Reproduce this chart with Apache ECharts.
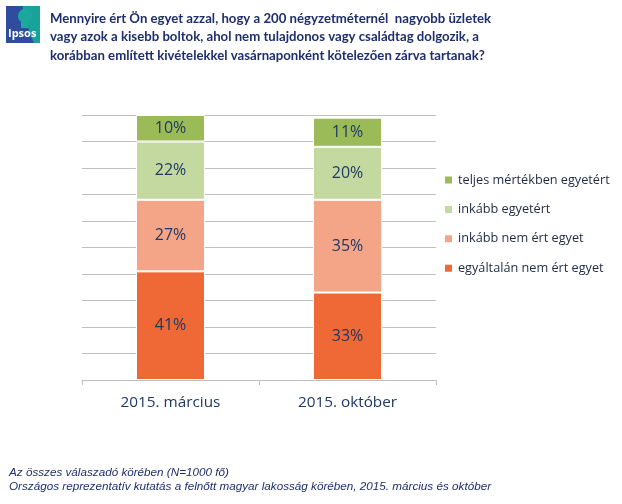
<!DOCTYPE html>
<html>
<head>
<meta charset="utf-8">
<script src="https://cdn.jsdelivr.net/npm/echarts@6/dist/echarts.min.js"></script>
<style>
html,body{margin:0;padding:0;background:#fff;}
#c{width:622px;height:504px;}
</style>
</head>
<body>
<div id="c"></div>
<script>
var categories = ['2015. március', '2015. október'];
var seriesNames = ['egyáltalán nem ért egyet', 'inkább nem ért egyet', 'inkább egyetért', 'teljes mértékben egyetért'];
var valEgyaltalan = [41, 33];
var valInkabbNem = [27, 35];
var valInkabbIgen = [22, 20];
var valTeljes = [10, 11];
var legendOrder = ['teljes mértékben egyetért', 'inkább egyetért', 'inkább nem ért egyet', 'egyáltalán nem ért egyet'];
var titleLines = [
  'Mennyire ért Ön egyet azzal, hogy a 200 négyzetméternél  nagyobb üzletek',
  'vagy azok a kisebb boltok, ahol nem tulajdonos vagy családtag dolgozik, a',
  'korábban említett kivételekkel vasárnaponként kötelezően zárva tartanak?'
];
var footLines = [
  'Az összes válaszadó körében (N=1000 fő)',
  'Országos reprezentatív kutatás a felnőtt magyar lakosság körében, 2015. március és október'
];

var colors = ['#EE6936', '#F5A587', '#C4D9A0', '#9BBB59'];
var allValues = [valEgyaltalan, valInkabbNem, valInkabbIgen, valTeljes];
var labelColor = '#1F3864';

var chart = echarts.init(document.getElementById('c'), null, {renderer: 'canvas'});
var series = seriesNames.map(function (n, i) {
  return {
    name: n,
    type: 'bar',
    stack: 'total',
    barWidth: 69,
    data: allValues[i],
    itemStyle: {color: colors[i], borderColor: '#ffffff', borderWidth: 1},
    label: {
      show: true,
      position: 'inside',
      formatter: '{c}%',
      color: labelColor,
      fontFamily: 'Open Sans',
      fontSize: 16
    }
  };
});

chart.setOption({
  animation: false,
  backgroundColor: '#ffffff',
  title: {
    text: titleLines.join('\n'),
    left: 50,
    top: 9,
    padding: 0,
    textStyle: {
      color: '#1F2F6E',
      fontFamily: 'Lato',
      fontWeight: 'bold',
      fontSize: 13.2,
      lineHeight: 18.5
    }
  },
  legend: {
    data: legendOrder,
    orient: 'vertical',
    left: 438,
    top: 167,
    itemWidth: 9,
    itemHeight: 9,
    itemGap: 13.4,
    icon: 'rect',
    textStyle: {color: '#1F2A44', fontFamily: 'Open Sans', fontSize: 12.7, lineHeight: 16}
  },
  grid: {left: 82, right: 186, top: 115, bottom: 124},
  xAxis: {
    type: 'category',
    data: categories,
    axisLine: {lineStyle: {color: '#BFBFBF'}},
    axisTick: {show: true, length: 5, lineStyle: {color: '#BFBFBF'}},
    axisLabel: {color: labelColor, fontFamily: 'Open Sans', fontSize: 15.3, margin: 15}
  },
  yAxis: {
    type: 'value',
    min: 0,
    max: 100,
    interval: 10,
    axisLabel: {show: false},
    axisLine: {show: false},
    axisTick: {show: false},
    splitLine: {lineStyle: {color: '#C0C0C4', width: 1}}
  },
  series: series,
  graphic: [
    {type: 'rect', shape: {x: 6, y: 6, width: 34, height: 37}, style: {fill: '#2F4C9F'}},
    {type: 'polygon', shape: {points: [[23, 6], [40, 6], [40, 43], [34, 43], [30, 34], [28, 27], [25, 22], [22, 15]]}, style: {fill: '#17A39B'}},
    {type: 'circle', shape: {cx: 25, cy: 16, r: 7}, style: {fill: '#1DA89E'}},
    {type: 'rect', shape: {x: 21, y: 20, width: 7, height: 8}, style: {fill: '#1DA89E'}},
    {type: 'text', left: 8, top: 28, style: {text: 'Ipsos', fill: '#ffffff', font: 'bold 11px "Open Sans"'}},
    {type: 'text', left: 9, top: 466, style: {text: footLines.join('\n'), fill: '#1F2F6E', font: 'italic 11.7px "Liberation Sans"', lineHeight: 13.5}}
  ]
});
</script>
</body>
</html>
